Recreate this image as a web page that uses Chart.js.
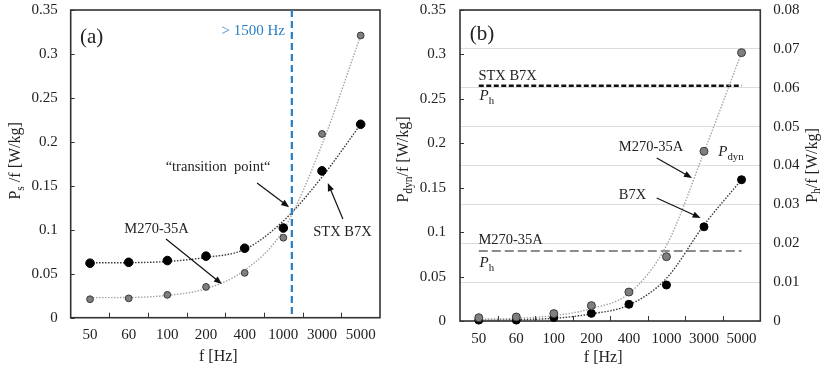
<!DOCTYPE html>
<html>
<head>
<meta charset="utf-8">
<script src="https://cdn.jsdelivr.net/npm/chart.js@4.4.0/dist/chart.umd.min.js"></script>
<style>
  html, body { margin: 0; padding: 0; background: #fff; }
  #wrap { position: relative; width: 837px; height: 372px; overflow: hidden; }
  #chartA { position: absolute; left: 0; top: 0; }
  #chartB { position: absolute; left: 392px; top: 0; }
</style>
</head>
<body>
<div id="wrap">
  <canvas id="chartA" width="392" height="372"></canvas>
  <canvas id="chartB" width="445" height="372"></canvas>
</div>
<script>
// categories (f [Hz])
const freqLabels = ['50', '60', '100', '200', '400', '1000', '3000', '5000'];

// (a) Ps/f [W/kg]
const psB7X  = [0.062, 0.063, 0.065, 0.070, 0.079, 0.102, 0.167, 0.220];
const psM270 = [0.021, 0.022, 0.026, 0.035, 0.051, 0.091, 0.209, 0.321];
// dotted trend curves
const psTrendB7X  = [0.0625, 0.0626, 0.064, 0.0686, 0.0777, 0.110, 0.160, 0.220];
const psTrendM270 = [0.0228, 0.023, 0.0254, 0.033, 0.054, 0.0997, 0.197, 0.321];
const markerAt = 5.22;   // "> 1500 Hz" line, in category units

// (b) Pdyn/f [W/kg] (left axis)
const pdynM270 = [0.0037, 0.0045, 0.0083, 0.0173, 0.0326, 0.0724, 0.191, 0.302];
const pdynB7X  = [0.001, 0.001, 0.004, 0.0086, 0.0188, 0.0405, 0.106, 0.159];
const pdynTrendM270 = [0.002, 0.003, 0.006, 0.014, 0.031, 0.085, 0.190, 0.302];
const pdynTrendB7X  = [0.001, 0.0015, 0.003, 0.008, 0.018, 0.048, 0.108, 0.159];
// (b) Ph/f [W/kg] (right axis)
const phB7X  = [0.0605, 0.0605, 0.0605, 0.0605, 0.0605, 0.0605, 0.0605, 0.0605];
const phM270 = [0.018, 0.018, 0.018, 0.018, 0.018, 0.018, 0.018, 0.018];

// tick labels
const ticksLeft  = [0, 0.05, 0.1, 0.15, 0.2, 0.25, 0.3, 0.35];
const ticksRight = [0, 0.01, 0.02, 0.03, 0.04, 0.05, 0.06, 0.07, 0.08];

const serif = "'Liberation Serif', 'Times New Roman', serif";
const ink = '#222';
const blue = '#2a7fc4';

// text with subscripts / italics
function drawParts(ctx, parts, x, y, size, align, color){
    let w = 0;
    const m = parts.map(function(p){
        const s = p.sub ? size * 0.72 : size;
        const f = (p.it ? 'italic ' : '') + s + 'px ' + serif;
        ctx.font = f;
        const pw = ctx.measureText(p.t).width;
        w += pw;
        return { f: f, pw: pw, dy: p.sub ? size * 0.32 : 0 };
    });
    let cx = align === 'center' ? x - w / 2 : (align === 'right' ? x - w : x);
    ctx.fillStyle = color || ink;
    ctx.textBaseline = 'middle';
    ctx.textAlign = 'left';
    parts.forEach(function(p, k){
        ctx.font = m[k].f;
        ctx.fillText(p.t, cx, y + m[k].dy);
        cx += m[k].pw;
    });
}

function drawArrow(ctx, x1, y1, x2, y2){
    const ang = Math.atan2(y2 - y1, x2 - x1);
    ctx.strokeStyle = '#111';
    ctx.fillStyle = '#111';
    ctx.lineWidth = 1.2;
    ctx.setLineDash([]);
    ctx.beginPath();
    ctx.moveTo(x1, y1);
    ctx.lineTo(x2 - 6 * Math.cos(ang), y2 - 6 * Math.sin(ang));
    ctx.stroke();
    ctx.beginPath();
    ctx.moveTo(x2, y2);
    ctx.lineTo(x2 - 8 * Math.cos(ang) + 3.2 * Math.sin(ang), y2 - 8 * Math.sin(ang) - 3.2 * Math.cos(ang));
    ctx.lineTo(x2 - 8 * Math.cos(ang) - 3.2 * Math.sin(ang), y2 - 8 * Math.sin(ang) + 3.2 * Math.cos(ang));
    ctx.closePath();
    ctx.fill();
}

const deco = {
    id: 'deco',
    beforeDatasetsDraw(chart, args, o){
        const ctx = chart.ctx, a = chart.chartArea, x = chart.scales.x, y = chart.scales.y;
        ctx.save();
        ctx.strokeStyle = '#333';
        ctx.lineWidth = 1;
        // inward tick marks
        y.ticks.forEach(function(t){
            const py = Math.round(y.getPixelForValue(t.value)) + 0.5;
            ctx.beginPath(); ctx.moveTo(a.left, py); ctx.lineTo(a.left + 4, py); ctx.stroke();
        });
        for(let i = 0; i < freqLabels.length - 1; i++){
            const px = Math.round(x.getPixelForValue(i + 0.5)) + 0.5;
            ctx.beginPath(); ctx.moveTo(px, a.bottom); ctx.lineTo(px, a.bottom - 5); ctx.stroke();
        }
        // frame
        ctx.strokeStyle = '#333';
        ctx.lineWidth = 1.6;
        ctx.strokeRect(a.left, a.top, a.right - a.left, a.bottom - a.top);
        ctx.restore();
    },
    afterDatasetsDraw(chart, args, o){
        const ctx = chart.ctx, a = chart.chartArea, x = chart.scales.x, y = chart.scales.y;
        ctx.save();
        if(o.marker !== undefined){
            const px = x.getPixelForValue(o.marker);
            ctx.strokeStyle = blue;
            ctx.lineWidth = 2.2;
            ctx.setLineDash([7, 4]);
            ctx.beginPath(); ctx.moveTo(px, a.top); ctx.lineTo(px, a.bottom); ctx.stroke();
            ctx.setLineDash([]);
        }
        (o.labels || []).forEach(function(l){
            drawParts(ctx, l.parts, x.getPixelForValue(l.x), y.getPixelForValue(l.y), l.size || 14.5, l.align || 'left', l.color);
        });
        (o.arrows || []).forEach(function(r){
            drawArrow(ctx, x.getPixelForValue(r[0]), y.getPixelForValue(r[1]), x.getPixelForValue(r[2]), y.getPixelForValue(r[3]));
        });
        // axis titles
        const midY = (a.top + a.bottom) / 2;
        drawParts(ctx, [{ t: 'f [Hz]' }], (a.left + a.right) / 2 - 7, a.bottom + o.xTitleGap, 16, 'center');
        (o.yTitles || []).forEach(function(t){
            ctx.save();
            const px = t.side === 'left' ? a.left - t.gap : a.right + t.gap;
            const shift = typeof t.shift === 'number' ? t.shift : 0;
            ctx.translate(px, midY + shift);
            ctx.rotate(-Math.PI / 2);
            drawParts(ctx, t.parts, 0, 0, 16, 'center');
            ctx.restore();
        });
        ctx.restore();
    }
};

function tickFont(){ return { family: serif, size: 15 }; }

// y axes: fixed width, no extra top padding from the tick labels
function fixWidth(w){
    return function(s){ s.width = w; s.paddingTop = 0; s.paddingBottom = 0; };
}

// chart (a)
new Chart(document.getElementById('chartA'), {
    type: 'line',
    data: {
        labels: freqLabels,
        datasets: [
            { data: psTrendB7X, borderColor: '#3a3a3a', borderWidth: 1.4, borderDash: [1.5, 1.5], pointRadius: 0, cubicInterpolationMode: 'monotone', order: 4 },
            { data: psTrendM270, borderColor: '#a6a6a6', borderWidth: 1.4, borderDash: [1.5, 1.5], pointRadius: 0, cubicInterpolationMode: 'monotone', order: 3 },
            { data: psM270, showLine: false, pointRadius: 3.4, backgroundColor: '#7f7f7f', borderColor: '#3a3a3a', borderWidth: 1, order: 2 },
            { data: psB7X, showLine: false, pointRadius: 4.3, backgroundColor: '#000', borderColor: '#000', borderWidth: 1, order: 1 }
        ]
    },
    options: {
        responsive: false,
        animation: false,
        devicePixelRatio: 1,
        clip: false,
        layout: { padding: { top: 10, right: 12, left: 0, bottom: 0 } },
        plugins: {
            legend: { display: false },
            tooltip: { enabled: false },
            deco: {
                marker: markerAt,
                xTitleGap: 39.5,
                yTitles: [{ side: 'left', gap: 55, shift: -3, parts: [{ t: 'P' }, { t: 's', sub: true }, { t: ' /f [W/kg]' }] }],
                labels: [
                    { x: -0.26, y: 0.319, parts: [{ t: '(a)' }], size: 21 },
                    { x: 5.04, y: 0.326, parts: [{ t: '> 1500 Hz' }], size: 15, align: 'right', color: blue },
                    { x: 3.31, y: 0.1714, parts: [{ t: '\u201ctransition  point\u201c' }], align: 'center' },
                    { x: 1.72, y: 0.1009, parts: [{ t: 'M270-35A' }], align: 'center' },
                    { x: 6.53, y: 0.0975, parts: [{ t: 'STX B7X' }], align: 'center' }
                ],
                arrows: [
                    [4.32, 0.1532, 5.15, 0.1257],
                    [1.965, 0.0895, 3.41, 0.0383],
                    [6.54, 0.1123, 6.15, 0.1532]
                ]
            }
        },
        scales: {
            x: {
                offset: true,
                grid: { display: false, drawTicks: false },
                border: { display: false },
                ticks: { font: tickFont(), color: ink, padding: 8, maxRotation: 0, autoSkip: false },
                afterFit: function(s){ s.height = 54.3; }
            },
            y: {
                min: 0, max: 0.35,
                grid: { display: false, drawTicks: false },
                border: { display: false },
                afterBuildTicks: function(s){ s.ticks = ticksLeft.map(function(v){ return { value: v }; }); },
                ticks: { font: tickFont(), color: ink, padding: 13, callback: function(v){ return String(v); } },
                afterFit: fixWidth(70.7)
            }
        }
    },
    plugins: [deco]
});

// chart (b)
new Chart(document.getElementById('chartB'), {
    type: 'line',
    data: {
        labels: freqLabels,
        datasets: [
            { data: phB7X, yAxisID: 'y2', borderColor: '#111', borderWidth: 2.4, borderDash: [5, 2.5], pointRadius: 0, order: 6 },
            { data: phM270, yAxisID: 'y2', borderColor: '#8c8c8c', borderWidth: 2, borderDash: [9, 4], pointRadius: 0, order: 5 },
            { data: pdynTrendB7X, borderColor: '#3a3a3a', borderWidth: 1.4, borderDash: [1.5, 1.5], pointRadius: 0, cubicInterpolationMode: 'monotone', order: 4 },
            { data: pdynTrendM270, borderColor: '#a6a6a6', borderWidth: 1.4, borderDash: [1.5, 1.5], pointRadius: 0, cubicInterpolationMode: 'monotone', order: 3 },
            { data: pdynB7X, showLine: false, pointRadius: 4, backgroundColor: '#000', borderColor: '#000', borderWidth: 1, order: 2 },
            { data: pdynM270, showLine: false, pointRadius: 4, backgroundColor: '#7f7f7f', borderColor: '#3a3a3a', borderWidth: 1, order: 1 }
        ]
    },
    options: {
        responsive: false,
        animation: false,
        devicePixelRatio: 1,
        clip: false,
        layout: { padding: { top: 10, right: 0, left: 0, bottom: 0 } },
        plugins: {
            legend: { display: false },
            tooltip: { enabled: false },
            deco: {
                xTitleGap: 37,
                yTitles: [
                    { side: 'left', gap: 56, shift: -6, parts: [{ t: 'P' }, { t: 'dyn', sub: true }, { t: '/f [W/kg]' }] },
                    { side: 'right', gap: 52, shift: 0, parts: [{ t: 'P' }, { t: 'h', sub: true }, { t: '/f [W/kg]' }] }
                ],
                labels: [
                    { x: -0.24, y: 0.322, parts: [{ t: '(b)' }], size: 21 },
                    { x: -0.01, y: 0.2757, parts: [{ t: 'STX B7X' }] },
                    { x: 0.02, y: 0.253, parts: [{ t: 'P', it: true }, { t: 'h', sub: true }], size: 15 },
                    { x: -0.01, y: 0.0912, parts: [{ t: 'M270-35A' }] },
                    { x: 0.02, y: 0.065, parts: [{ t: 'P', it: true }, { t: 'h', sub: true }], size: 15 },
                    { x: 3.73, y: 0.1958, parts: [{ t: 'M270-35A' }] },
                    { x: 6.38, y: 0.19, parts: [{ t: 'P', it: true }, { t: 'dyn', sub: true }], size: 15 },
                    { x: 3.73, y: 0.1418, parts: [{ t: 'B7X' }] }
                ],
                arrows: [
                    [4.74, 0.1834, 5.68, 0.1609],
                    [4.74, 0.1384, 5.91, 0.1159]
                ]
            }
        },
        scales: {
            x: {
                offset: true,
                grid: { display: false, drawTicks: false },
                border: { display: false },
                ticks: { font: tickFont(), color: ink, padding: 9, maxRotation: 0, autoSkip: false },
                afterFit: function(s){ s.height = 51; }
            },
            y: {
                min: 0, max: 0.35,
                grid: { display: false, drawTicks: false },
                border: { display: false },
                afterBuildTicks: function(s){ s.ticks = ticksLeft.map(function(v){ return { value: v }; }); },
                ticks: { font: tickFont(), color: ink, padding: 14, callback: function(v){ return String(v); } },
                afterFit: fixWidth(68)
            },
            y2: {
                position: 'right',
                min: 0, max: 0.08,
                grid: { color: '#dcdcdc', lineWidth: 1, drawTicks: false },
                border: { display: false },
                afterBuildTicks: function(s){ s.ticks = ticksRight.map(function(v){ return { value: v }; }); },
                ticks: { font: tickFont(), color: ink, padding: 13, callback: function(v){ return String(v); } },
                afterFit: fixWidth(76.7)
            }
        }
    },
    plugins: [deco]
});
</script>
</body>
</html>
